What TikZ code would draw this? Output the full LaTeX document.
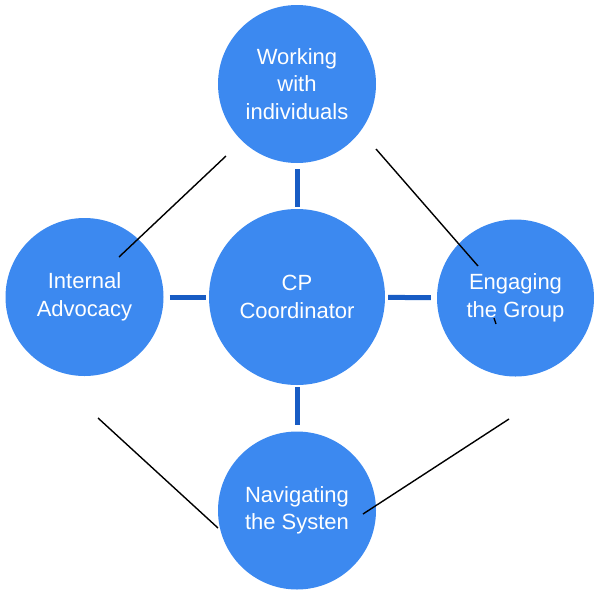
\documentclass[tikz,border=0pt]{standalone}
\usepackage{fontspec}
\setmainfont{Liberation Sans}
\definecolor{circfill}{RGB}{60,137,240}
\definecolor{linkblue}{RGB}{24,92,196}
\begin{document}
\begin{tikzpicture}[x=1pt,y=-1pt,
  bubble/.style={circle,fill=circfill,draw=none,text=white,align=center,
    font=\fontsize{22}{27.5}\selectfont,inner sep=0pt},
  link/.style={draw=linkblue,line width=5pt},
  thin/.style={draw=black,line width=1.4pt}]
\useasboundingbox (0,0) rectangle (600,595);
\node[bubble,minimum size=158pt] (top) at (297,84) {Working\\with\\individuals};
\node[bubble,minimum size=176pt] (mid) at (297,297) {CP\\Coordinator};
\node[bubble,minimum size=158pt] (left) at (84.5,297) {Internal\\Advocacy};
\node[bubble,minimum size=157pt] (right) at (515.5,298) {Engaging\\the Group};
\node[bubble,minimum size=158pt] (bot) at (297,510.5) {Navigating\\the Systen};
\draw[link,shorten <=6pt,shorten >=2pt] (top) -- (mid);
\draw[link,shorten <=6pt,shorten >=3pt] (left) -- (mid);
\draw[link,shorten <=3pt,shorten >=6pt] (mid) -- (right);
\draw[link,shorten <=2pt,shorten >=6pt] (mid) -- (bot);
\coordinate (a1) at (226,156); \coordinate (a2) at (119,257);
\coordinate (b1) at (376,149); \coordinate (b2) at (478,266);
\coordinate (t1) at (494,318); \coordinate (t2) at (496,324);
\coordinate (c1) at (98,418); \coordinate (c2) at (218,528);
\coordinate (d1) at (509,419); \coordinate (d2) at (363,514);
\draw[thin] (a1) -- (a2);
\draw[thin] (b1) -- (b2);
\draw[thin] (t1) -- (t2);
\draw[thin] (c1) -- (c2);
\draw[thin] (d1) -- (d2);
\end{tikzpicture}
\end{document}
